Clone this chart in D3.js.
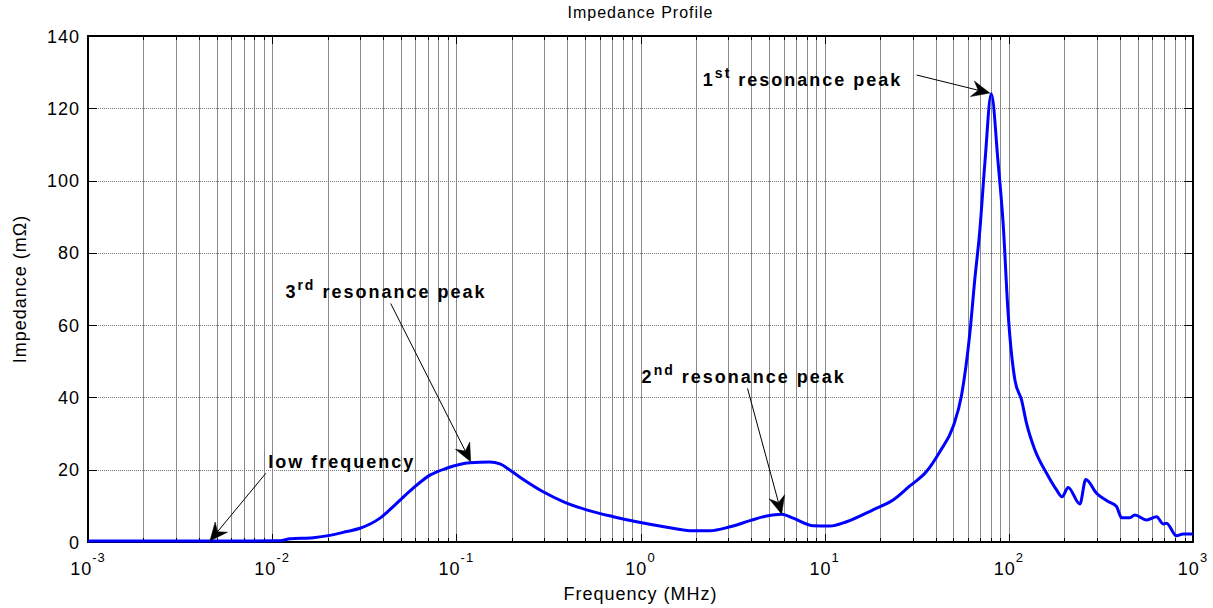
<!DOCTYPE html>
<html>
<head>
<meta charset="utf-8">
<script src="https://cdn.jsdelivr.net/npm/d3@7"></script>
<style>
  body { margin: 0; background: #fff; }
  svg { display: block; font-family: "Liberation Sans", Arial, sans-serif; }
</style>
</head>
<body>
<svg id="chart" width="1213" height="608"></svg>
<script>
// frequency in MHz, impedance in mOhm
const freqMHz = [0.001, 0.00217, 0.00406, 0.00757, 0.011, 0.0125, 0.0167, 0.0198, 0.0254, 0.030,
  0.0385, 0.0474, 0.0583, 0.0719, 0.0886, 0.1186, 0.152, 0.1725, 0.195, 0.231,
  0.296, 0.380, 0.509, 0.711, 0.953, 1.39, 1.93, 2.38, 3.06, 3.93,
  4.84, 5.84, 6.75, 8.67, 10.67, 13.15, 18.3, 23.5, 29.0, 35.7,
  42.2, 49.9, 55.4, 61.4, 65.3, 69.6, 74.1, 80.3, 87.5, 93.1,
  99.1, 107.9, 117.2, 124.8, 138.4, 160.3, 181.6, 194.6, 209.9, 242.9,
  261.8, 299.3, 346, 384.3, 409.3, 454, 483, 559.5, 634, 689,
  718, 813, 884, 1000];
const impedance = [0.3, 0.3, 0.3, 0.3, 0.35, 0.9, 1.2, 1.7, 2.9, 3.8,
  6.6, 10.7, 14.9, 18.5, 20.4, 21.9, 22.1, 21.6, 19.9, 17.3,
  13.9, 11.2, 8.9, 7.0, 5.6, 4.1, 3.1, 3.1, 4.2, 5.9,
  7.2, 7.7, 6.6, 4.5, 4.4, 5.6, 8.9, 11.6, 15.5, 19.5,
  25, 32, 40.7, 57.7, 72.5, 86.3, 104.8, 124, 104.8, 88.2,
  63.3, 44.8, 39.3, 32.8, 25.5, 19, 14.4, 12.5, 15.1, 10.5,
  17.3, 13.5, 11.2, 9.8, 6.7, 6.7, 7.5, 6.1, 7.0, 5.0,
  5.2, 1.7, 2.2, 2.2];

const yTicks = [0, 20, 40, 60, 80, 100, 120, 140];
const xDecades = [-3, -2, -1, 0, 1, 2, 3];

// annotations: label, superscript, rest, text anchor (freq, value), arrow start, arrow tip
const annoLabels = ["1", "3", "2", ""];
const annoSups = ["st", "rd", "nd", ""];
const annoRest = [" resonance peak", " resonance peak", " resonance peak", "low frequency"];
const annoTextAt = [[2.18, 126.2], [0.0118, 67.5], [1.014, 44.1], [0.00953, 20.4]];
const annoFrom = [[31.6, 129.2], [0.0440, 66.0], [3.81, 42.5], [0.00923, 19.0]];
const annoTip = [[78.9, 124.2], [0.1197, 22.2], [5.84, 7.7], [0.00459, 0.28]];

const svg = d3.select("#chart");
const margin = { left: 88, right: 20, top: 36, bottom: 66 };
const W = 1213, H = 608;

const x = d3.scaleLog().domain([1e-3, 1e3]).range([margin.left, W - margin.right]);
const y = d3.scaleLinear().domain([0, 140]).range([H - margin.bottom, margin.top]);

const x0 = x.range()[0], x1 = x.range()[1], y0 = y.range()[0], y1 = y.range()[1];

// all log gridline positions (majors + minors)
let gridVals = [];
xDecades.forEach(e => {
  if (e === 3) { gridVals.push(1000); return; }
  for (let k = 1; k < 10; k++) gridVals.push(k * Math.pow(10, e));
});

let grid = svg.append("g");
grid.selectAll("line.v")
  .data(gridVals.filter(v => v > 1e-3 && v < 1e3))
  .enter().append("line")
  .attr("x1", d => Math.round(x(d)) + 0.5).attr("x2", d => Math.round(x(d)) + 0.5)
  .attr("y1", y1).attr("y2", y0)
  .style("stroke", "#8a8a8a").style("stroke-width", 1);

grid.selectAll("line.h")
  .data(yTicks.slice(1, -1))
  .enter().append("line")
  .attr("x1", x0).attr("x2", x1)
  .attr("y1", d => Math.round(y(d)) + 0.5).attr("y2", d => Math.round(y(d)) + 0.5)
  .style("stroke", "#777").style("stroke-width", 1).style("stroke-dasharray", "1,1");

// ticks (inward, on all four sides)
let ticks = svg.append("g").style("stroke", "#000").style("stroke-width", 1);
gridVals.forEach(v => {
  let major = Math.abs(Math.log10(v) - Math.round(Math.log10(v))) < 1e-9;
  let len = major ? 8 : 4;
  let px = Math.round(x(v)) + 0.5;
  ticks.append("line").attr("x1", px).attr("x2", px).attr("y1", y0).attr("y2", y0 - len);
  ticks.append("line").attr("x1", px).attr("x2", px).attr("y1", y1).attr("y2", y1 + len);
});
yTicks.forEach(v => {
  let py = Math.round(y(v)) + 0.5;
  ticks.append("line").attr("x1", x0).attr("x2", x0 + 9).attr("y1", py).attr("y2", py);
  ticks.append("line").attr("x1", x1).attr("x2", x1 - 9).attr("y1", py).attr("y2", py);
});

// box
svg.append("rect")
  .attr("x", x0).attr("y", y1).attr("width", x1 - x0).attr("height", y0 - y1)
  .style("fill", "none").style("stroke", "#000").style("stroke-width", 2);

// curve
let data = freqMHz.map((f, i) => ({ f: f, v: impedance[i] }));
let line = d3.line().x(d => x(d.f)).y(d => y(d.v)).curve(d3.curveMonotoneX);
svg.append("path")
  .datum(data)
  .attr("d", line)
  .style("fill", "none").style("stroke", "#0000ff").style("stroke-width", 3)
  .style("stroke-linejoin", "round");

// y tick labels
svg.append("g").selectAll("text")
  .data(yTicks).enter().append("text")
  .attr("x", x0 - 8).attr("y", d => y(d) + 6.5)
  .attr("text-anchor", "end")
  .style("font-size", "18px").style("letter-spacing", "1px")
  .text(d => d);

// x tick labels 10^e
let xl = svg.append("g").selectAll("text")
  .data(xDecades).enter().append("text")
  .attr("x", d => x(Math.pow(10, d)))
  .attr("y", y0 + 33)
  .attr("text-anchor", "middle")
  .style("font-size", "18px").style("letter-spacing", "1px");
xl.append("tspan").text("10");
xl.append("tspan").attr("dy", -13).style("font-size", "13px").text(d => d);

// title and axis labels
svg.append("text")
  .attr("x", (x0 + x1) / 2).attr("y", 18)
  .attr("text-anchor", "middle")
  .style("font-size", "16px").style("letter-spacing", "1px")
  .text("Impedance Profile");

svg.append("text")
  .attr("x", (x0 + x1) / 2).attr("y", 600)
  .attr("text-anchor", "middle")
  .style("font-size", "18px").style("letter-spacing", "1px")
  .text("Frequency (MHz)");

svg.append("text")
  .attr("transform", "translate(26," + ((y0 + y1) / 2) + ") rotate(-90)")
  .attr("text-anchor", "middle")
  .style("font-size", "18px").style("letter-spacing", "1px")
  .text("Impedance (m\u03A9)");

// annotations with MATLAB style arrows
let ann = svg.append("g");
annoRest.forEach((rest, i) => {
  let t = ann.append("text")
    .attr("x", x(annoTextAt[i][0])).attr("y", y(annoTextAt[i][1]))
    .style("font-size", "18px").style("font-weight", "bold").style("letter-spacing", "2px");
  if (annoLabels[i]) {
    t.append("tspan").text(annoLabels[i]);
    t.append("tspan").attr("dy", -8).style("font-size", "14px").text(annoSups[i]);
    t.append("tspan").attr("dy", 8).text(rest);
  } else {
    t.append("tspan").text(rest);
  }

  let sx = x(annoFrom[i][0]), sy = y(annoFrom[i][1]);
  let tx = x(annoTip[i][0]), ty = y(annoTip[i][1]);
  let ang = Math.atan2(ty - sy, tx - sx);
  let L = 18, Wd = 8, notch = 12;
  let ca = Math.cos(ang), sa = Math.sin(ang);
  let bx = tx - L * ca, by = ty - L * sa;
  let nx = tx - notch * ca, ny = ty - notch * sa;
  ann.append("line")
    .attr("x1", sx).attr("y1", sy).attr("x2", nx).attr("y2", ny)
    .style("stroke", "#000").style("stroke-width", 1);
  let pts = [[tx, ty], [bx - Wd * sa, by + Wd * ca], [nx, ny], [bx + Wd * sa, by - Wd * ca]];
  ann.append("path")
    .attr("d", "M" + pts.map(p => p.join(",")).join("L") + "Z")
    .style("fill", "#000").style("stroke", "#000").style("stroke-width", 0.5);
});
</script>
</body>
</html>
